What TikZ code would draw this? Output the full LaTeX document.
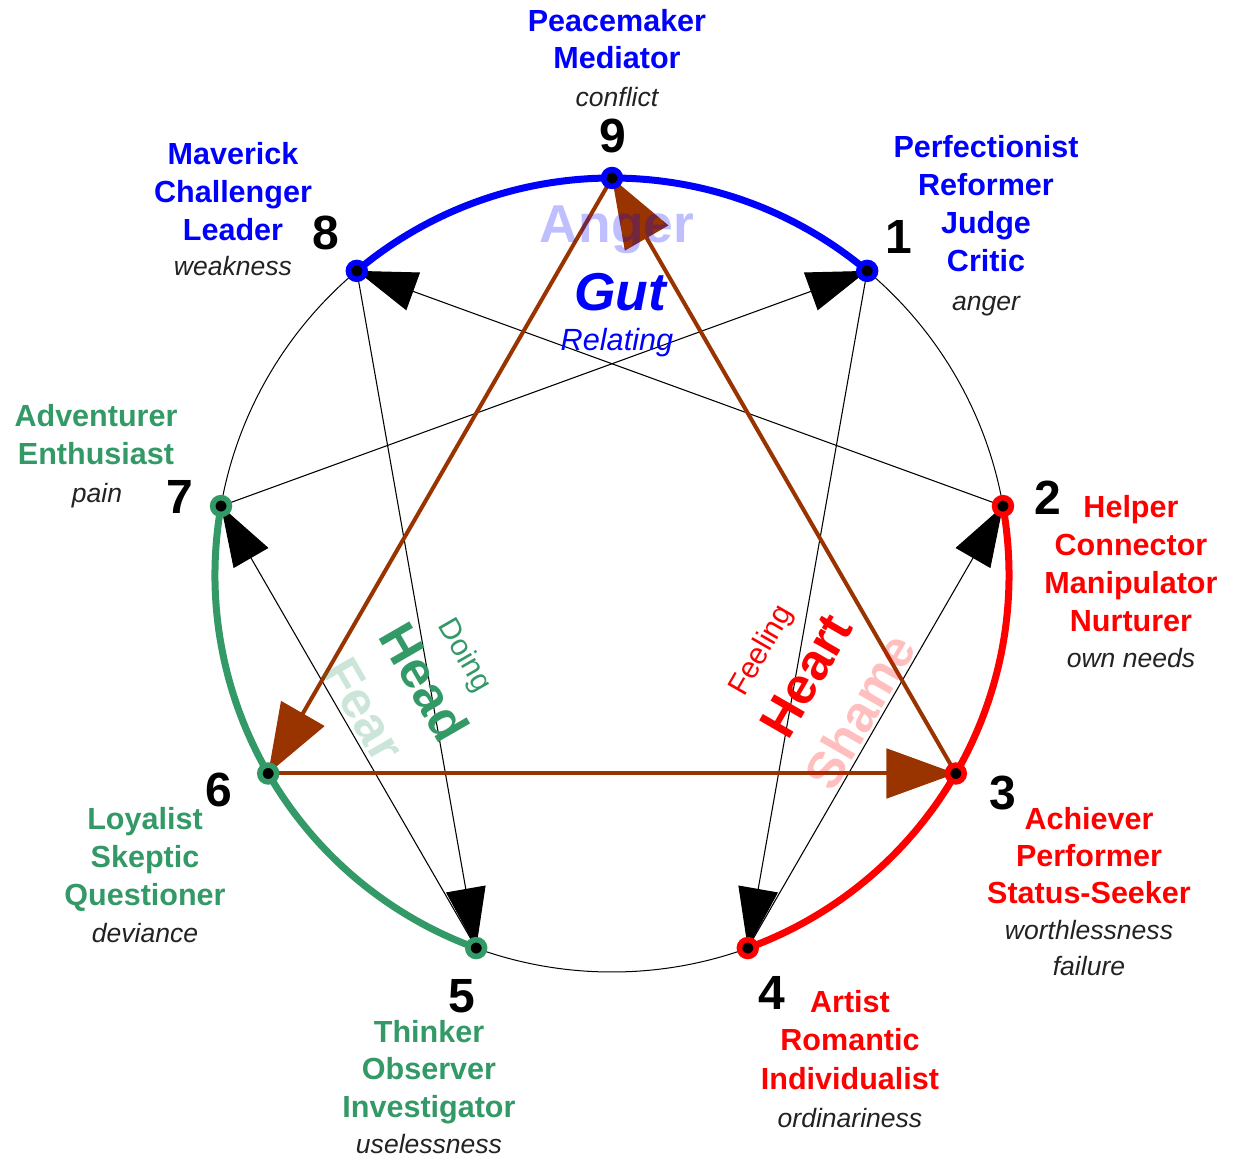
\documentclass[tikz,border=0pt]{standalone}
\usepackage{fontspec}
\setmainfont{Liberation Sans}
\usetikzlibrary{arrows.meta}
\definecolor{eblue}{RGB}{0,0,255}
\definecolor{ered}{RGB}{255,0,0}
\definecolor{egreen}{RGB}{51,153,102}
\definecolor{ebrown}{RGB}{153,51,0}
\definecolor{etext}{RGB}{34,34,34}
\pgfdeclarelayer{bg}
\pgfsetlayers{bg,main}
\begin{document}
\begin{tikzpicture}[x=0.75pt,y=0.75pt,
  pt/.style={circle, draw=#1, fill=black, line width=4.2pt, minimum size=12.6pt, inner sep=0pt},
  hexline/.style={black, line width=0.8pt, -{Triangle[length=45pt,width=30pt]}},
  triline/.style={ebrown, line width=3pt, -{Triangle[length=52pt,width=37pt]}},
  bigarc/.style={line width=5.25pt},
  tname/.style={font=\fontsize{22.9}{27}\selectfont\bfseries, anchor=base, inner sep=0pt},
  tfix/.style={font=\fontsize{19.9}{24}\selectfont\itshape, anchor=base, inner sep=0pt, text=etext},
  tnum/.style={font=\fontsize{36}{40}\selectfont\bfseries, anchor=base, inner sep=0pt},
  tbig/.style={font=\fontsize{38.5}{42}\selectfont\bfseries, inner sep=0pt},
  tsmall/.style={font=\fontsize{22.5}{26}\selectfont, inner sep=0pt},
]
\useasboundingbox (-612,-588) rectangle (621,575);

% points
\node[pt=eblue] (p9) at (90:397) {};
\node[pt=eblue] (p1) at (50:397) {};
\node[pt=ered] (p2) at (10:397) {};
\node[pt=ered] (p3) at (-30:397) {};
\node[pt=ered] (p4) at (-70:397) {};
\node[pt=egreen] (p5) at (-110:397) {};
\node[pt=egreen] (p6) at (-150:397) {};
\node[pt=egreen] (p7) at (170:397) {};
\node[pt=eblue] (p8) at (130:397) {};

\begin{pgfonlayer}{bg}
  \draw[line width=0.75pt] (0,0) circle[radius=397];
  \draw[eblue, bigarc] (p8.center) arc[start angle=130, end angle=50, radius=397];
  \draw[ered, bigarc] (p2.center) arc[start angle=10, end angle=-70, radius=397];
  \draw[egreen, bigarc] (p5.center) arc[start angle=250, end angle=170, radius=397];
  % hexad
  \draw[hexline] (p1.center) -- (p4.center);
  \draw[hexline] (p4.center) -- (p2.center);
  \draw[hexline] (p2.center) -- (p8.center);
  \draw[hexline] (p8.center) -- (p5.center);
  \draw[hexline] (p5.center) -- (p7.center);
  \draw[hexline] (p7.center) -- (p1.center);
  % triangle
  \draw[triline] (p9.center) -- (p6.center);
  \draw[triline] (p6.center) -- (p3.center);
  \draw[triline] (p3.center) -- (p9.center);
\end{pgfonlayer}

% 9
\node[tname, text=eblue] (l9a) at (5,543) {Peacemaker};
\node[tname, text=eblue] (l9b) at (5,506) {Mediator};
\node[tfix] (l9c) at (5,468) {conflict};
\node[tnum] (n9) at (1,422) {9};
% 8
\node[tname, text=eblue] (l8a) at (-379,410) {Maverick};
\node[tname, text=eblue] (l8b) at (-379,372) {Challenger};
\node[tname, text=eblue] (l8c) at (-379,334) {Leader};
\node[tfix] (l8d) at (-379,299) {weakness};
\node[tnum] (n8) at (-286,325) {8};
% 1
\node[tname, text=eblue] (l1a) at (374,417) {Perfectionist};
\node[tname, text=eblue] (l1b) at (374,379) {Reformer};
\node[tname, text=eblue] (l1c) at (374,341) {Judge};
\node[tname, text=eblue] (l1d) at (374,303) {Critic};
\node[tfix] (l1e) at (374,264) {anger};
\node[tnum] (n1) at (287,321) {1};
% 7
\node[tname, text=egreen] (l7a) at (-516,148) {Adventurer};
\node[tname, text=egreen] (l7b) at (-516,110) {Enthusiast};
\node[tfix] (l7c) at (-515,72) {pain};
\node[tnum] (n7) at (-432,61) {7};
% 2
\node[tname, text=ered] (l2a) at (519,57) {Helper};
\node[tname, text=ered] (l2b) at (519,19) {Connector};
\node[tname, text=ered] (l2c) at (519,-19) {Manipulator};
\node[tname, text=ered] (l2d) at (519,-57) {Nurturer};
\node[tfix] (l2e) at (519,-93) {own needs};
\node[tnum] (n2) at (436,60) {2};
% 6
\node[tname, text=egreen] (l6a) at (-467,-255) {Loyalist};
\node[tname, text=egreen] (l6b) at (-467,-293) {Skeptic};
\node[tname, text=egreen] (l6c) at (-467,-331) {Questioner};
\node[tfix] (l6d) at (-467,-368) {deviance};
\node[tnum] (n6) at (-393,-232) {6};
% 3
\node[tname, text=ered] (l3a) at (477,-255) {Achiever};
\node[tname, text=ered] (l3b) at (477,-292) {Performer};
\node[tname, text=ered] (l3c) at (477,-329) {Status-Seeker};
\node[tfix] (l3d) at (477,-365) {worthlessness};
\node[tfix] (l3e) at (477,-401) {failure};
\node[tnum] (n3) at (391,-235) {3};
% 5
\node[tname, text=egreen] (l5a) at (-183,-468) {Thinker};
\node[tname, text=egreen] (l5b) at (-183,-505) {Observer};
\node[tname, text=egreen] (l5c) at (-183,-542) {Investigator};
\node[tfix] (l5d) at (-183,-579) {uselessness};
\node[tnum] (n5) at (-150,-438) {5};
% 4
\node[tname, text=ered] (l4a) at (238,-438) {Artist};
\node[tname, text=ered] (l4b) at (238,-476) {Romantic};
\node[tname, text=ered] (l4c) at (238,-514) {Individualist};
\node[tfix] (l4d) at (238,-552) {ordinariness};
\node[tnum] (n4) at (160,-435) {4};

% centres
\node[tbig, text=eblue, text opacity=0.25, font=\fontsize{40}{44}\selectfont\bfseries] (anger) at (5,345) {Anger};
\node[tbig, text=eblue, font=\fontsize{40}{44}\selectfont\bfseries\itshape] (gut) at (8,283) {Gut};
\node[tsmall, text=eblue, font=\fontsize{23}{26}\selectfont\itshape] (relating) at (5,232) {Relating};

\node[tbig, text=egreen, rotate=-60] (head) at (-187,-107) {Head};
\node[tsmall, text=egreen, rotate=-60] (doing) at (-148,-81) {Doing};
\node[tbig, text=egreen, text opacity=0.25, rotate=-60] (fear) at (-248,-135) {Fear};

\node[tbig, text=ered, rotate=60] (heart) at (194,-101) {Heart};
\node[tsmall, text=ered, rotate=60] (feeling) at (150,-76) {Feeling};
\node[tbig, text=ered, text opacity=0.25, rotate=60] (shame) at (248,-136) {Shame};
\end{tikzpicture}
\end{document}
